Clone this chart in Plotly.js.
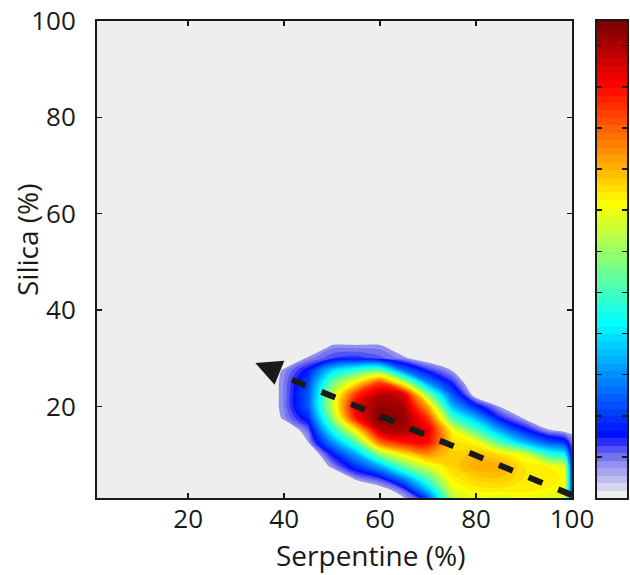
<!DOCTYPE html>
<html>
<head>
<meta charset="utf-8">
<script src="https://cdn.plot.ly/plotly-3.0.1.min.js"></script>
<style>html,body{margin:0;padding:0;background:#fff;}#chart{width:630px;height:575px;}</style>
</head>
<body>
<div id="chart"></div>
<script>
// ---- data ----
const serpentine = [35, 40, 45, 50, 55, 60, 65, 70, 75, 80, 85, 90, 95, 98.5, 100];
const silica = [0, 2.5, 5, 7.5, 10, 12.5, 15, 17.5, 20, 22.5, 25, 27.5, 30, 32.5, 35];
// relative density, one row per serpentine value (listed over silica)
const density = [
  [0,0,0,0,0,0,0,0,0,0,0,0,0,0,0],
  [0,0,0,0,0,0,0.01,0.07,0.08,0.08,0.08,0.07,0.01,0,0],
  [0,0,0,0,0,0.06,0.09,0.15,0.2,0.2,0.18,0.14,0.07,0,0],
  [0,0,0,0.07,0.13,0.25,0.38,0.5,0.56,0.55,0.47,0.33,0.11,0.07,0],
  [0,0,0.07,0.16,0.28,0.45,0.63,0.85,0.9,0.82,0.63,0.42,0.12,0.07,0],
  [0,0.03,0.11,0.28,0.5,0.76,0.93,1.0,0.97,0.94,0.8,0.46,0.1,0.07,0],
  [0.04,0.09,0.25,0.47,0.63,0.85,0.95,0.97,0.95,0.9,0.56,0.22,0.07,0.02,0],
  [0.12,0.3,0.45,0.58,0.72,0.86,0.89,0.82,0.7,0.5,0.25,0.12,0.03,0,0],
  [0.5,0.58,0.63,0.66,0.66,0.65,0.62,0.45,0.3,0.2,0.12,0.06,0,0,0],
  [0.58,0.63,0.66,0.7,0.68,0.62,0.45,0.3,0.15,0.03,0,0,0,0,0],
  [0.55,0.63,0.67,0.7,0.65,0.45,0.28,0.13,0.06,0,0,0,0,0,0],
  [0.58,0.63,0.64,0.64,0.6,0.3,0.15,0.06,0,0,0,0,0,0,0],
  [0.56,0.62,0.64,0.63,0.42,0.2,0.07,0,0,0,0,0,0,0,0],
  [0.55,0.6,0.62,0.58,0.36,0.16,0.05,0,0,0,0,0,0,0,0],
  [0.14,0.15,0.15,0.14,0.12,0.09,0.05,0,0,0,0,0,0,0,0]
];
const xTicks = [20, 40, 60, 80, 100];
const yTicks = [20, 40, 60, 80, 100];
// trend arrow (dashed shaft from lower right, head at upper left)
const trendSerp = [100, 41.5];
const trendSil = [1.6, 25.6];
const arrowTip = [34.0, 29.0];
const arrowTail = [36.5, 28.0];

// ---- colour map: jet(64) with a white-to-blue low end ----
const nBands = 64;
const firstFilled = 4; // lowest band drawn inside the plot
function jetRGB(n) { // n = 1..64
  let r, g, b;
  if (n <= 8) { r = 0; g = 0; b = 0.5 + n / 16; }
  else if (n <= 24) { r = 0; g = (n - 8) / 16; b = 1; }
  else if (n <= 40) { r = (n - 24) / 16; g = 1; b = 1 - (n - 24) / 16; }
  else if (n <= 56) { r = 1; g = 1 - (n - 40) / 16; b = 0; }
  else { r = 1 - (n - 56) / 16; g = 0; b = 0; }
  return 'rgb(' + Math.round(r * 255) + ',' + Math.round(g * 255) + ',' + Math.round(b * 255) + ')';
}
const lowColors = ['#EEEEEE', '#D6D6EF', '#BEBEEE', '#A6A6EE', '#9090EE', '#7474F0', '#5252F5', '#2C2CFA'];
const bandColors = lowColors.slice();
for (let n = 9; n <= 64; n++) bandColors.push(jetRGB(n));
const barScale = bandColors.map((c, i) => [i / (nBands - 1), c]);
const plotColors = [bandColors[0]].concat(bandColors.slice(firstFilled));
const plotScale = plotColors.map((c, i) => [i / (plotColors.length - 1), c]);

// colour bar drawn as a one-column heatmap of the band indices
const bandIdx = [], bandMid = [];
for (let b = 0; b < nBands; b++) { bandIdx.push([b]); bandMid.push((b + 0.5) / nBands); }

const ink = '#1a1a1a';
const fontFam = '"Open Sans", "DejaVu Sans", sans-serif';

const traces = [
  {
    type: 'contour',
    x: serpentine, y: silica, z: density, transpose: true,
    autocontour: false,
    contours: { start: firstFilled / nBands, end: (nBands - 1) / nBands, size: 1 / nBands, coloring: 'fill', showlines: false },
    line: { width: 0 },
    colorscale: plotScale,
    showscale: false,
    hoverinfo: 'skip'
  },
  {
    type: 'scatter', mode: 'lines',
    x: trendSerp, y: trendSil,
    line: { color: ink, width: 6, dash: '15px,17px' },
    hoverinfo: 'skip', showlegend: false
  },
  {
    type: 'heatmap', xaxis: 'x2', yaxis: 'y2',
    x: [0.5], y: bandMid, z: bandIdx, zmin: 0, zmax: nBands - 1,
    colorscale: barScale, showscale: false, hoverinfo: 'skip'
  }
];

const axisCommon = {
  showline: true, linewidth: 2, linecolor: ink, mirror: 'ticks',
  ticks: 'inside', ticklen: 5, tickwidth: 1.5, tickcolor: ink,
  showgrid: false, zeroline: false,
  tickfont: { family: fontFam, size: 26, color: ink }
};

const layout = {
  width: 630, height: 575,
  margin: { l: 97, r: 3, t: 21, b: 77, pad: 0 },
  paper_bgcolor: '#ffffff', plot_bgcolor: '#EEEEEE',
  showlegend: false,
  font: { family: fontFam, color: ink },
  xaxis: Object.assign({}, axisCommon, {
    domain: [0, 0.8962], range: [1, 100], tickvals: xTicks,
    ticklabelstandoff: -3
  }),
  yaxis: Object.assign({}, axisCommon, {
    domain: [0, 1], range: [1, 100], tickvals: yTicks,
    ticklabelstandoff: 14
  }),
  xaxis2: {
    domain: [0.9434, 1], anchor: 'y2', range: [0, 1],
    showline: true, linewidth: 2, linecolor: ink, mirror: true,
    ticks: '', showticklabels: false, showgrid: false, zeroline: false
  },
  yaxis2: {
    domain: [0, 1], anchor: 'x2', range: [0, 1],
    showline: true, linewidth: 2, linecolor: ink, mirror: 'ticks',
    ticks: 'inside', ticklen: 5, tickwidth: 1.5, tickcolor: ink,
    tick0: 0, dtick: 1 / 11.6,
    showticklabels: false, showgrid: false, zeroline: false
  },
  annotations: [
    {
      xref: 'x', yref: 'y', axref: 'x', ayref: 'y',
      x: arrowTip[0], y: arrowTip[1], ax: arrowTail[0], ay: arrowTail[1],
      text: '', showarrow: true, arrowhead: 2, arrowsize: 1.3, arrowwidth: 4, arrowcolor: ink
    },
    {
      xref: 'paper', yref: 'paper', x: 0.516, y: -0.1195,
      xanchor: 'center', yanchor: 'middle', showarrow: false,
      text: 'Serpentine (%)', font: { family: fontFam, size: 28, color: ink }
    },
    {
      xref: 'paper', yref: 'paper', x: -0.132, y: 0.541,
      xanchor: 'center', yanchor: 'middle', showarrow: false, textangle: -90,
      text: 'Silica (%)', font: { family: fontFam, size: 28, color: ink }
    }
  ]
};

Plotly.newPlot('chart', traces, layout, { displayModeBar: false, staticPlot: true });
</script>
</body>
</html>
